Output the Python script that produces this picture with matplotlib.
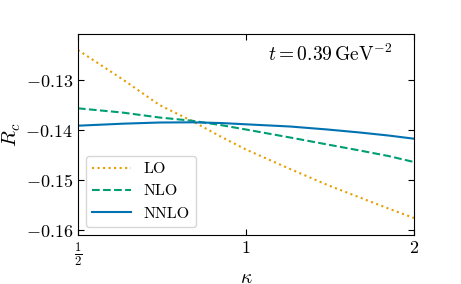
import numpy as np
import matplotlib
matplotlib.use("Agg")
import matplotlib.pyplot as plt
from matplotlib.ticker import FixedLocator, NullLocator

plt.rcParams["mathtext.fontset"] = "cm"
plt.rcParams["font.family"] = "serif"
plt.rcParams["font.serif"] = ["cmr10", "DejaVu Serif"]
plt.rcParams["axes.formatter.use_mathtext"] = True

kappa = [0.5, 0.6, 0.7, 0.8, 0.9, 1.0, 1.2, 1.4, 1.6, 1.8, 2.0]
lo = [-0.1240, -0.1298, -0.1350, -0.13818, -0.14128, -0.1439,
      -0.1478, -0.1510, -0.1535, -0.1557, -0.1576]
nlo = [-0.13566, -0.1365, -0.1375, -0.13814, -0.1390, -0.1399,
       -0.1415, -0.1429, -0.1441, -0.1452, -0.1464]
nnlo = [-0.13914, -0.13874, -0.1385, -0.13846, -0.1386, -0.13886,
        -0.1393, -0.1399, -0.1405, -0.1411, -0.14174]

xticks = [0.5, 1, 2]
xticklabels = [r"$\frac{1}{2}$", r"$1$", r"$2$"]
yticks = [-0.16, -0.15, -0.14, -0.13]
yticklabels = [r"$-0.16$", r"$-0.15$", r"$-0.14$", r"$-0.13$"]

fig = plt.figure(figsize=(4.61, 2.84), dpi=100)
ax = fig.add_axes([0.169, 0.1725, 0.729, 0.7095])

ax.plot(kappa, lo, ":", color="#E69F00", lw=1.5, label="LO")
ax.plot(kappa, nlo, "--", color="#009E73", lw=1.5, label="NLO")
ax.plot(kappa, nnlo, "-", color="#0072B2", lw=1.5, label="NNLO")

ax.set_xscale("log")
ax.set_xlim(0.5, 2)
ax.set_ylim(-0.161, -0.1207)
ax.xaxis.set_major_locator(FixedLocator(xticks))
ax.xaxis.set_minor_locator(NullLocator())
ax.set_xticklabels(xticklabels)
ax.set_yticks(yticks)
ax.set_yticklabels(yticklabels)
ax.tick_params(direction="in", top=True, right=True, labelsize=13, length=4)

ax.set_xlabel(r"$\kappa$", fontsize=14, labelpad=1)
ax.set_ylabel(r"$\hat{R}_c$", fontsize=15, labelpad=2)
ax.text(0.935, 0.95, r"$t = 0.39\,\mathrm{GeV}^{-2}$", transform=ax.transAxes,
        ha="right", va="top", fontsize=14)

ax.legend(loc="lower left", fontsize=11.5, handlelength=2.4,
          borderaxespad=0.5)

fig.savefig("out.png", dpi=100)
